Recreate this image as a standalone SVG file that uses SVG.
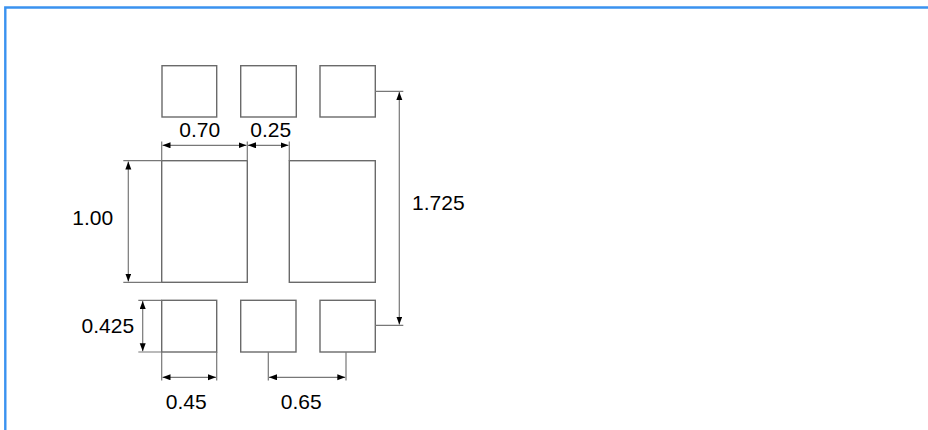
<svg xmlns="http://www.w3.org/2000/svg" width="928" height="430" viewBox="0 0 928 430">
<style>
.pad{fill:#fff;stroke:#6a6a6a;stroke-width:1.4}
.ext{fill:none;stroke:#777;stroke-width:1.2}
.dim{fill:none;stroke:#777;stroke-width:1.2;marker-start:url(#ah);marker-end:url(#ah)}
.lbl{font-family:"Liberation Sans",Arial,sans-serif;font-size:21px;fill:#000;text-anchor:middle}
</style>
<defs>
<marker id="ah" markerUnits="userSpaceOnUse" markerWidth="9" markerHeight="7" refX="8" refY="3" orient="auto-start-reverse">
<path d="M0,0 L8,3 L0,6 z" fill="#000"/>
</marker>
</defs>
<rect width="928" height="430" fill="#fff"/>
<path d="M5.3,430 V7.5 H928" fill="none" stroke="#3a92f0" stroke-width="2.4"/>
<g id="pad-top-1"><rect class="pad" x="162" y="65.7" width="54.7" height="51.3"/></g>
<g id="pad-top-2"><rect class="pad" x="240.7" y="65.7" width="55.6" height="51.3"/></g>
<g id="pad-top-3"><rect class="pad" x="320" y="65.7" width="55.3" height="51.3"/></g>
<g id="pad-big-left"><rect class="pad" x="161.7" y="160.7" width="85.6" height="121.6"/></g>
<g id="pad-big-right"><rect class="pad" x="289.3" y="160.7" width="86" height="121.6"/></g>
<g id="pad-bot-1"><rect class="pad" x="161.7" y="300.3" width="55" height="51.7"/></g>
<g id="pad-bot-2"><rect class="pad" x="240.7" y="300.3" width="55.3" height="51.7"/></g>
<g id="pad-bot-3"><rect class="pad" x="320" y="300.3" width="55.3" height="51.7"/></g>
<g id="connectors">
<path class="ext" d="M161.7,141.5 V160.7 M247.3,141.5 V160.7 M289.3,141.5 V160.7"/>
<path class="dim" d="M162.5,145.3 H246.5"/>
<path class="dim" d="M248,145.3 H288.5"/>
<path class="ext" d="M123.3,160.7 H161.7 M123.3,282.3 H161.7"/>
<path class="dim" d="M128.3,161.5 V281.5"/>
<path class="ext" d="M375.3,91.3 H403.3 M375.3,325.3 H403.3"/>
<path class="dim" d="M399.3,92 V324.5"/>
<path class="ext" d="M138.3,300.3 H161.7 M138.3,352 H161.7"/>
<path class="dim" d="M142.7,301 V351.3"/>
<path class="ext" d="M161.7,352 V380.5 M216.7,352 V380.5 M268.3,352 V380.5 M346,352 V380.5"/>
<path class="dim" d="M162.5,377.3 H216"/>
<path class="dim" d="M269,377.3 H345.3"/>
</g>
<g id="labels">
<text class="lbl" x="199.7" y="136.7">0.70</text>
<text class="lbl" x="270.8" y="137">0.25</text>
<text class="lbl" x="92.7" y="225">1.00</text>
<text class="lbl" x="438.3" y="210">1.725</text>
<text class="lbl" x="107.8" y="332.7">0.425</text>
<text class="lbl" x="186.3" y="408.7">0.45</text>
<text class="lbl" x="301.2" y="408.7">0.65</text>
</g>
</svg>
